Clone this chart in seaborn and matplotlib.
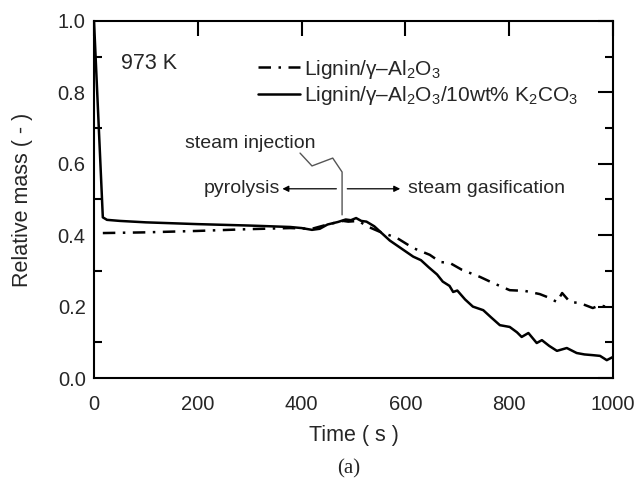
import matplotlib
matplotlib.use("Agg")
import matplotlib.pyplot as plt
import seaborn as sns
import pandas as pd
import numpy as np

# ---- data ----
t_k = [0, 17, 25, 50, 100, 200, 300, 378, 400, 420, 435, 450, 470, 485, 495, 505, 515,
       525, 540, 555, 570, 585, 600, 615, 630, 645, 661, 672, 685, 692, 700, 715, 730,
       750, 765, 782, 801, 815, 824, 837, 853, 863, 877, 892, 911, 930, 945, 961, 975,
       988, 1000]
m_k = [1.0, 0.45, 0.443, 0.44, 0.436, 0.431, 0.427, 0.423, 0.42, 0.415, 0.418, 0.43,
       0.437, 0.444, 0.442, 0.448, 0.44, 0.438, 0.425, 0.405, 0.385, 0.37, 0.355, 0.34,
       0.33, 0.31, 0.29, 0.27, 0.258, 0.241, 0.245, 0.22, 0.2, 0.19, 0.17, 0.148, 0.143,
       0.128, 0.115, 0.126, 0.098, 0.106, 0.09, 0.076, 0.084, 0.07, 0.066, 0.064, 0.062,
       0.05, 0.059]

t_a = [17, 100, 200, 300, 378, 420, 450, 480, 490, 510, 526, 550, 584, 615, 647, 667,
       686, 709, 744, 769, 801, 830, 859, 873, 892, 902, 917, 936, 961, 975, 985, 1000]
m_a = [0.406, 0.408, 0.412, 0.417, 0.42, 0.418, 0.43, 0.44, 0.438, 0.44, 0.425, 0.41,
       0.392, 0.364, 0.345, 0.325, 0.322, 0.303, 0.283, 0.266, 0.246, 0.244, 0.235,
       0.227, 0.213, 0.238, 0.213, 0.21, 0.196, 0.204, 0.2, 0.2]

label_a = "Lignin/γ–Al$_2$O$_3$"
label_k = "Lignin/γ–Al$_2$O$_3$/10wt% K$_2$CO$_3$"

x_ticks = [0, 200, 400, 600, 800, 1000]
y_ticks = [0.0, 0.2, 0.4, 0.6, 0.8, 1.0]

sns.set_theme(style="white")
plt.rcParams['font.family'] = ['Liberation Sans', 'DejaVu Sans']
plt.rcParams['mathtext.fontset'] = 'custom'
plt.rcParams['mathtext.rm'] = 'Liberation Sans'
plt.rcParams['mathtext.it'] = 'Liberation Sans:italic'
plt.rcParams['mathtext.default'] = 'regular'

fig = plt.figure(figsize=(6.4, 4.79), dpi=100)
ax = fig.add_axes([94/640, 1-378/479, 519/640, 357/479])

df_a = pd.DataFrame({"t": t_a, "m": m_a})
df_k = pd.DataFrame({"t": t_k, "m": m_k})
sns.lineplot(data=df_a, x="t", y="m", ax=ax, color="black", lw=1.8,
             dashes=False, label=label_a)
ax.lines[-1].set_dashes([5, 3, 1, 3])
sns.lineplot(data=df_k, x="t", y="m", ax=ax, color="black", lw=1.8, label=label_k)

ax.set_xlim(0, 1000)
ax.set_ylim(0, 1.0)
ax.set_xticks(x_ticks)
ax.set_yticks(y_ticks)
ax.set_xticklabels([str(v) for v in x_ticks])
ax.set_yticklabels([f"{v:.1f}" for v in y_ticks])
ax.set_yticks(np.arange(0.1, 1.0, 0.2), minor=True)
ax.tick_params(which='major', direction='in', length=11, width=1.5,
               top=True, right=True, labelsize=14.5, color='black')
ax.tick_params(axis='x', which='major', pad=12)
ax.tick_params(axis='y', which='major', pad=6)
ax.tick_params(which='minor', direction='in', length=6, width=1.5,
               left=True, right=True, color='black')
for s in ax.spines.values():
    s.set_linewidth(1.5)
    s.set_color('black')

ax.set_xlabel("Time ( s )", fontsize=15.5, labelpad=8)
ax.set_ylabel("Relative mass ( - )", fontsize=15.5, labelpad=18)

leg = ax.legend(loc='upper left', bbox_to_anchor=(0.316, 0.897), frameon=False,
                fontsize=15, handlelength=2.0, handletextpad=0.2,
                borderpad=0, borderaxespad=0, labelspacing=0.15)

ax.text(52, 0.882, "973 K", fontsize=15.5, va='center', ha='left')
ax.text(302, 0.658, "steam injection", fontsize=14, va='center', ha='center')
ax.text(358, 0.53, "pyrolysis", fontsize=14, va='center', ha='right')
ax.text(605, 0.53, "steam gasification", fontsize=14, va='center', ha='left')

gray = '#555555'
ax.plot([397, 420, 460, 478, 478], [0.630, 0.594, 0.616, 0.577, 0.457],
        color=gray, lw=1.0)
ax.annotate("", xy=(363, 0.53), xytext=(467, 0.53),
            arrowprops=dict(arrowstyle='-|>', color='black', lw=0.9,
                            mutation_scale=9, shrinkA=0, shrinkB=0))
ax.annotate("", xy=(590, 0.53), xytext=(488, 0.53),
            arrowprops=dict(arrowstyle='-|>', color='black', lw=0.9,
                            mutation_scale=9, shrinkA=0, shrinkB=0))

fig.text(349/640, 1-469/479, "(a)", fontsize=15, family='Liberation Serif',
         ha='center', va='center')

fig.savefig("out.png", dpi=100)
